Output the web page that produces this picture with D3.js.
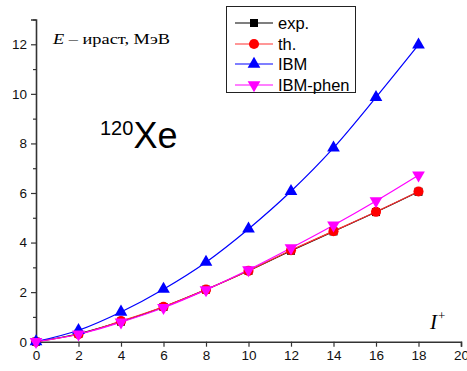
<!DOCTYPE html>
<html>
<head>
<meta charset="utf-8">
<script src="https://cdn.jsdelivr.net/npm/d3@7"></script>
<style>
  html, body { margin: 0; padding: 0; background: #fff; }
  svg { display: block; }
</style>
</head>
<body>
<svg id="chart" width="467" height="371"></svg>
<script>
// Spin values I (ħ) of the yrast band
const spins = [0, 2, 4, 6, 8, 10, 12, 14, 16, 18];
// Yrast energies, MeV
const expValues = [0, 0.32, 0.81, 1.40, 2.10, 2.86, 3.67, 4.45, 5.23, 6.05];
const thValues = [0, 0.30, 0.83, 1.41, 2.10, 2.86, 3.69, 4.46, 5.24, 6.06];
const ibmValues = [0, 0.46, 1.20, 2.12, 3.21, 4.55, 6.07, 7.82, 9.86, 11.98];
const ibmPhenValues = [0, 0.30, 0.79, 1.37, 2.09, 2.90, 3.78, 4.70, 5.68, 6.72];
const xTicks = [0, 2, 4, 6, 8, 10, 12, 14, 16, 18, 20];
const yTicks = [0, 2, 4, 6, 8, 10, 12];
const yMinorTicks = [1, 3, 5, 7, 9, 11, 13];

const seriesList = [
  { name: "exp.", values: expValues, color: "#000000", line: "#000000", symbol: d3.symbolSquare, size: 64, rot: 0 },
  { name: "th.", values: thValues, color: "#ff0000", line: "#ff3030", symbol: d3.symbolCircle, size: 80, rot: 0 },
  { name: "IBM", values: ibmValues, color: "#0000ff", line: "#0000ff", symbol: d3.symbolTriangle, size: 70, rot: 0 },
  { name: "IBM-phen", values: ibmPhenValues, color: "#ff00ff", line: "#ff00ff", symbol: d3.symbolTriangle, size: 70, rot: 180 }
];

const svg = d3.select("#chart");
const x = d3.scaleLinear().domain([0, 20]).range([36, 461]);
const y = d3.scaleLinear().domain([0, 13]).range([341.7, 19.5]);

const axisFont = "Liberation Sans, Arial, sans-serif";

// Bottom axis
svg.append("g")
  .attr("transform", `translate(0,${y(0)})`)
  .call(d3.axisBottom(x).tickValues(xTicks).tickSize(5).tickPadding(4).tickFormat(d3.format("d")));
// Left axis
svg.append("g")
  .attr("transform", `translate(${x(0)},0)`)
  .call(d3.axisLeft(y).tickValues(yTicks).tickSize(5).tickPadding(4).tickFormat(d3.format("d")));
svg.append("g")
  .attr("transform", `translate(${x(0)},0)`)
  .call(d3.axisLeft(y).tickValues(yMinorTicks).tickSize(3).tickFormat(""))
  .call(g => g.select(".domain").remove());

svg.selectAll(".domain").attr("stroke", "#333").attr("stroke-width", 1.6);
svg.selectAll(".tick line").attr("stroke", "#333").attr("stroke-width", 1.2);
svg.selectAll(".tick text").attr("font-family", axisFont).attr("font-size", 13.5).attr("fill", "#111");

// Curves and markers
const line = d3.line()
  .x((d, i) => x(spins[i]))
  .y(d => y(d))
  .curve(d3.curveMonotoneX);

seriesList.forEach(s => {
  svg.append("path")
    .datum(s.values)
    .attr("fill", "none")
    .attr("stroke", s.line)
    .attr("stroke-width", 1.2)
    .attr("d", line);
});
seriesList.forEach(s => {
  const sym = d3.symbol().type(s.symbol).size(s.size);
  svg.append("g").selectAll("path")
    .data(s.values)
    .join("path")
    .attr("d", sym)
    .attr("fill", s.color)
    .attr("transform", (d, i) => `translate(${x(spins[i])},${y(d)}) rotate(${s.rot})`);
});

// Legend
const legend = svg.append("g");
legend.append("rect")
  .attr("x", 226.5).attr("y", 6.5).attr("width", 129).attr("height", 86)
  .attr("fill", "#fff").attr("stroke", "#222").attr("stroke-width", 1);
const rowY = [23, 44, 64, 85];
seriesList.forEach((s, i) => {
  const g = legend.append("g").attr("transform", `translate(0,${rowY[i]})`);
  g.append("line").attr("x1", 235).attr("x2", 273).attr("y1", 0).attr("y2", 0)
    .attr("stroke", s.line).attr("stroke-width", 1.2);
  g.append("path")
    .attr("d", d3.symbol().type(s.symbol).size(s.size)())
    .attr("fill", s.color)
    .attr("transform", `translate(254,0) rotate(${s.rot})`);
  g.append("text").attr("x", 278).attr("y", 6)
    .attr("font-family", axisFont).attr("font-size", 16.5).attr("fill", "#000")
    .text(s.name);
});

// Axis titles and annotation
const serif = "Liberation Serif, Times New Roman, serif";
const yTitle = svg.append("text").attr("x", 53).attr("y", 44)
  .attr("font-family", serif).attr("font-size", 15.5).attr("fill", "#000")
  .attr("textLength", 117).attr("lengthAdjust", "spacingAndGlyphs");
yTitle.append("tspan").attr("font-style", "italic").text("E");
yTitle.append("tspan").text(" – ираст, МэВ");

const xTitle = svg.append("text").attr("x", 430).attr("y", 329)
  .attr("font-family", serif).attr("font-size", 21).attr("fill", "#000");
xTitle.append("tspan").attr("font-style", "italic").text("I");
xTitle.append("tspan").attr("font-size", 13).attr("dy", -9).attr("dx", 1).text("+");

const nucleus = svg.append("text").attr("x", 100).attr("y", 148)
  .attr("font-family", axisFont).attr("fill", "#000");
nucleus.append("tspan").attr("font-size", 20).attr("dy", -13).text("120");
nucleus.append("tspan").attr("font-size", 36).attr("dy", 13).text("Xe");
</script>
</body>
</html>
